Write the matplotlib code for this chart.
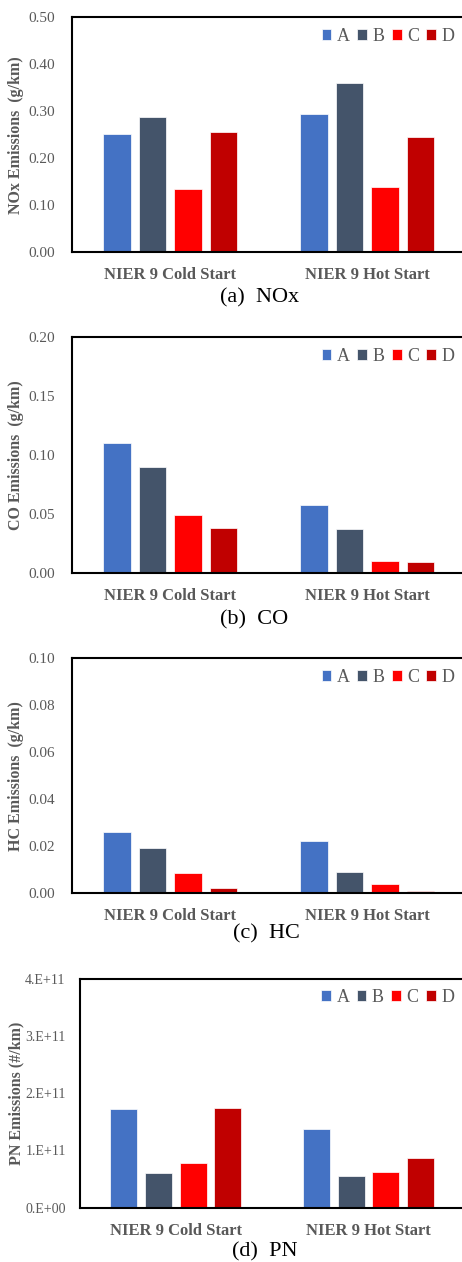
import numpy as np
import matplotlib.pyplot as plt

# vehicles and test cycles
vehicles = ['A', 'B', 'C', 'D']
cycles = ['NIER 9 Cold Start', 'NIER 9 Hot Start']
colors = ['#4472C4', '#44546A', '#FF0000', '#C00000']

# emissions per vehicle: [cold, hot]
nox_A = [0.252, 0.293]
nox_B = [0.288, 0.359]
nox_C = [0.134, 0.139]
nox_D = [0.255, 0.244]

co_A = [0.110, 0.058]
co_B = [0.090, 0.037]
co_C = [0.049, 0.010]
co_D = [0.038, 0.009]

hc_A = [0.026, 0.022]
hc_B = [0.019, 0.009]
hc_C = [0.0085, 0.0037]
hc_D = [0.0020, 0.0007]

pn_A = [1.72e11, 1.37e11]
pn_B = [0.60e11, 0.55e11]
pn_C = [0.775e11, 0.62e11]
pn_D = [1.74e11, 0.87e11]

W, H = 462, 1262
plt.rcParams['font.family'] = ['Liberation Serif', 'DejaVu Serif']
gray = '#595959'

fig = plt.figure(figsize=(W / 100, H / 100), dpi=100)


def panel(left, right, top, bottom, series, ymax, ystep, fmt, ylabel,
          caption, cap_x, cap_y, tick_size=11, tick_pad=12):
    ax = fig.add_axes([left / W, 1 - bottom / H, (right - left) / W,
                       (bottom - top) / H])
    x = np.arange(len(cycles))
    step, width = 0.18, 0.14
    for i, (name, vals) in enumerate(zip(vehicles, series)):
        ax.bar(x + (i - 1.5) * step, vals, width, color=colors[i],
               edgecolor='white', linewidth=0.5, label=name, zorder=2)
    ax.set_xlim(-0.5, 1.5)
    ax.set_ylim(0, ymax)
    ticks = np.arange(0, ymax + ystep / 2, ystep)
    ax.set_yticks(ticks)
    ax.set_yticklabels([fmt(t) for t in ticks], color=gray, fontsize=tick_size)
    ax.set_xticks(x)
    ax.set_xticklabels(cycles, color=gray, fontsize=12, fontweight='bold')
    ax.tick_params(axis='y', length=0, pad=tick_pad)
    ax.tick_params(axis='x', length=0, pad=11)
    for s in ['left', 'top', 'bottom']:
        ax.spines[s].set_linewidth(1.5)
    ax.spines['right'].set_visible(False)
    ax.set_ylabel(ylabel, color=gray, fontsize=11.5, fontweight='bold')
    ax.yaxis.set_label_coords((24 - left) / (right - left), 0.5)
    ax.legend(loc='upper right', bbox_to_anchor=(0.995, 0.995), ncol=4,
              frameon=False, fontsize=13, labelcolor=gray, borderpad=0,
              handlelength=0.55, handleheight=0.55, handletextpad=0.3,
              columnspacing=0.4)
    fig.text(cap_x / W, 1 - cap_y / H, caption, fontsize=16, ha='left',
             va='center')
    return ax


panel(72, 465.6, 17.3, 252, [nox_A, nox_B, nox_C, nox_D], 0.5, 0.1,
      lambda v: f'{v:.2f}', 'NOx Emissions  (g/km)', '(a)  NOx', 220, 298)
panel(72, 465.6, 337.3, 573, [co_A, co_B, co_C, co_D], 0.2, 0.05,
      lambda v: f'{v:.2f}', 'CO Emissions  (g/km)', '(b)  CO', 220, 620)
panel(72, 465.6, 658.3, 893, [hc_A, hc_B, hc_C, hc_D], 0.1, 0.02,
      lambda v: f'{v:.2f}', 'HC Emissions  (g/km)', '(c)  HC', 233, 934)
panel(79.5, 465, 978.7, 1207.7, [pn_A, pn_B, pn_C, pn_D], 4e11, 1e11,
      lambda v: f'{int(round(v / 1e11))}.E+{11 if v else 0:02d}',
      'PN Emissions (#/km)', '(d)  PN', 232, 1251.7, tick_size=10, tick_pad=10)

fig.savefig('out.png', dpi=100)
